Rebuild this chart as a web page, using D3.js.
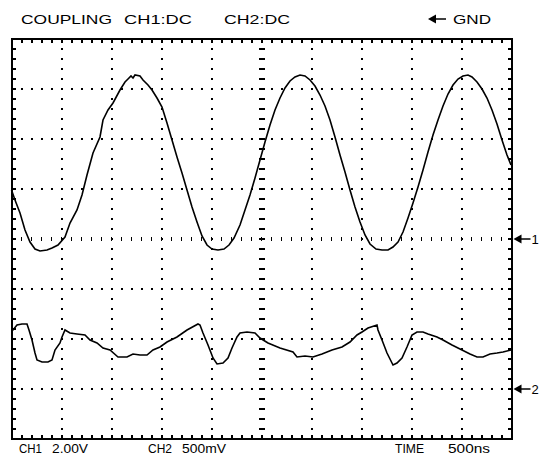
<!DOCTYPE html>
<html>
<head>
<meta charset="utf-8">
<script src="https://cdn.jsdelivr.net/npm/d3@7"></script>
<style>
  body { margin: 0; background: #fff; }
  text { font-family: "Liberation Sans", Arial, sans-serif; font-size: 13px; fill: #000; }
</style>
</head>
<body>
<script>
// screen settings
const divisionsX = 10;
const divisionsY = 8;
const timePerDiv = 500;      // ns
const ch1VoltsPerDiv = 2.0;  // V
const ch2VoltsPerDiv = 0.5;  // V
const ch1GroundDiv = 4;      // divisions below top
const ch2GroundDiv = 7;

// channel 1 trace (time ns, volts)
const ch1Time = [0,35,85,135,185,235,285,355,405,465,535,585,655,705,755,815,885,915,965,1015,1085,1135,1165,1195,1215,1235,1285,1315,1365,1405,1455,1505,1555,1605,1655,1705,1755,1805,1855,1905,1955,2005,2065,2125,2175,2225,2285,2335,2385,2435,2485,2535,2585,2635,2685,2735,2785,2835,2885,2935,2985,3035,3085,3135,3185,3235,3285,3335,3385,3435,3485,3535,3585,3645,3705,3765,3815,3865,3915,3965,4015,4065,4115,4165,4215,4265,4315,4365,4415,4465,4515,4565,4605,4655,4705,4755,4805,4855,4905,4955,4995];
const ch1Volts = [1.96,1.56,1.04,0.36,-0.12,-0.40,-0.48,-0.44,-0.36,-0.24,0.08,0.64,1.16,1.76,2.56,3.44,4.08,4.76,5.16,5.44,5.96,6.28,6.40,6.52,6.44,6.56,6.52,6.36,6.16,5.96,5.64,5.28,4.64,3.96,3.28,2.64,1.96,1.28,0.68,0.12,-0.24,-0.40,-0.44,-0.40,-0.24,0.04,0.56,1.16,1.76,2.44,3.16,3.88,4.56,5.16,5.64,6.04,6.32,6.48,6.56,6.52,6.36,6.12,5.76,5.32,4.76,4.08,3.36,2.68,1.96,1.28,0.68,0.16,-0.20,-0.40,-0.44,-0.44,-0.32,-0.12,0.28,0.84,1.44,2.08,2.76,3.48,4.16,4.76,5.32,5.80,6.16,6.40,6.52,6.56,6.48,6.28,6.00,5.64,5.16,4.60,3.96,3.36,2.96];

// channel 2 trace (time ns, volts)
const ch2Time = [0,15,55,105,155,175,205,235,255,305,365,405,435,485,505,535,585,655,735,785,855,915,985,1065,1155,1215,1285,1355,1415,1485,1555,1655,1755,1865,1885,1915,1965,2015,2055,2115,2165,2205,2255,2285,2355,2435,2485,2565,2685,2815,2855,2935,3015,3105,3205,3305,3385,3455,3505,3565,3655,3665,3705,3755,3815,3855,3905,3955,4005,4055,4115,4165,4255,4315,4405,4505,4585,4655,4715,4785,4855,4915,4995];
const ch2Volts = [0.58,0.59,0.64,0.65,0.65,0.59,0.49,0.36,0.29,0.27,0.27,0.29,0.39,0.46,0.52,0.59,0.56,0.55,0.54,0.49,0.46,0.41,0.39,0.32,0.32,0.35,0.34,0.34,0.39,0.42,0.47,0.52,0.59,0.65,0.64,0.56,0.44,0.31,0.25,0.26,0.31,0.41,0.52,0.56,0.57,0.56,0.51,0.46,0.41,0.37,0.32,0.33,0.32,0.35,0.39,0.42,0.47,0.54,0.57,0.61,0.64,0.59,0.49,0.36,0.24,0.26,0.31,0.42,0.54,0.57,0.57,0.55,0.52,0.49,0.44,0.39,0.35,0.32,0.32,0.35,0.36,0.37,0.39];

// labels
const headerLabels = [
  { text: "COUPLING", x: 21, w: 91 },
  { text: "CH1:DC", x: 124, w: 68 },
  { text: "CH2:DC", x: 224, w: 66 },
  { text: "GND", x: 453, w: 38 }
];
const footerLabels = [
  { text: "CH1", x: 19, w: 23 },
  { text: "2.00V", x: 52, w: 36 },
  { text: "CH2", x: 148, w: 24 },
  { text: "500mV", x: 182, w: 44 },
  { text: "TIME", x: 395, w: 29 },
  { text: "500ns", x: 448, w: 42 }
];
const markerLabels = ["1", "2"];

const W = 539, H = 469;
const plotLeft = 11.5, plotRight = 511.5, plotTop = 39, plotBottom = 439;

const svg = d3.select("body").append("svg")
    .attr("width", W)
    .attr("height", H)
    .attr("viewBox", `0 0 ${W} ${H}`);

svg.append("rect").attr("width", W).attr("height", H).attr("fill", "#fff");

// scales
const x = d3.scaleLinear().domain([0, divisionsX * timePerDiv]).range([plotLeft, plotRight]);
const gx = d3.scaleLinear().domain([0, divisionsX]).range([plotLeft, plotRight]);
const gy = d3.scaleLinear().domain([0, divisionsY]).range([plotTop, plotBottom]);
const y1 = d3.scaleLinear()
    .domain([ch1GroundDiv * ch1VoltsPerDiv, (ch1GroundDiv - divisionsY) * ch1VoltsPerDiv])
    .range([plotTop, plotBottom]);
const y2 = d3.scaleLinear()
    .domain([ch2GroundDiv * ch2VoltsPerDiv, (ch2GroundDiv - divisionsY) * ch2VoltsPerDiv])
    .range([plotTop, plotBottom]);

const grid = svg.append("g").attr("shape-rendering", "crispEdges").attr("fill", "#000");

// dotted division lines, one dot every fifth of a division
const fifthsX = d3.range(1, divisionsX * 5);
const fifthsY = d3.range(1, divisionsY * 5);
d3.range(1, divisionsX).filter(i => i !== divisionsX / 2).forEach(i => {
  grid.selectAll(null).data(fifthsY).join("rect")
      .attr("x", gx(i) - 1).attr("y", d => gy(d / 5) - 1)
      .attr("width", 2).attr("height", 2);
});
d3.range(1, divisionsY).filter(j => j !== divisionsY / 2).forEach(j => {
  grid.selectAll(null).data(fifthsX).join("rect")
      .attr("x", d => gx(d / 5) - 1).attr("y", gy(j) - 1)
      .attr("width", 2).attr("height", 2);
});

// centre axes with small tick dashes
grid.selectAll(null).data(fifthsY).join("rect")
    .attr("x", gx(divisionsX / 2) - 3).attr("y", d => gy(d / 5) - 1)
    .attr("width", 6).attr("height", 2);
grid.selectAll(null).data(fifthsX).join("rect")
    .attr("x", d => gx(d / 5) - 1).attr("y", gy(divisionsY / 2) - 2)
    .attr("width", 1.5).attr("height", 4);

// border ticks pointing inward
grid.selectAll(null).data(fifthsX).join("rect")
    .attr("x", d => gx(d / 5) - 1).attr("y", plotTop)
    .attr("width", 2).attr("height", 4);
grid.selectAll(null).data(fifthsX).join("rect")
    .attr("x", d => gx(d / 5) - 1).attr("y", plotBottom - 4)
    .attr("width", 2).attr("height", 4);
grid.selectAll(null).data(fifthsY).join("rect")
    .attr("x", plotLeft).attr("y", d => gy(d / 5) - 1)
    .attr("width", 4).attr("height", 2);
grid.selectAll(null).data(fifthsY).join("rect")
    .attr("x", plotRight - 4).attr("y", d => gy(d / 5) - 1)
    .attr("width", 4).attr("height", 2);

// frame
svg.append("rect")
    .attr("x", plotLeft).attr("y", plotTop)
    .attr("width", plotRight - plotLeft).attr("height", plotBottom - plotTop)
    .attr("fill", "none").attr("stroke", "#000").attr("stroke-width", 2)
    .attr("shape-rendering", "crispEdges");

// traces
const line1 = d3.line().x(d => x(d[0])).y(d => y1(d[1]));
const line2 = d3.line().x(d => x(d[0])).y(d => y2(d[1]));

svg.append("path")
    .datum(d3.zip(ch1Time, ch1Volts))
    .attr("d", line1)
    .attr("fill", "none").attr("stroke", "#000").attr("stroke-width", 1.6);

svg.append("path")
    .datum(d3.zip(ch2Time, ch2Volts))
    .attr("d", line2)
    .attr("fill", "none").attr("stroke", "#000").attr("stroke-width", 1.6);

// arrow glyph helper
function arrow(g, x0, yc, len) {
  g.append("path")
      .attr("d", `M${x0},${yc} l8,-4.5 v9 z`)
      .attr("fill", "#000");
  g.append("line")
      .attr("x1", x0 + 6).attr("x2", x0 + len)
      .attr("y1", yc).attr("y2", yc)
      .attr("stroke", "#000").attr("stroke-width", 1.5);
}

// ground markers
const markers = svg.append("g");
[[y1(0), markerLabels[0]], [y2(0), markerLabels[1]]].forEach(([yy, lab]) => {
  arrow(markers, plotRight + 2, yy, 17);
  markers.append("text")
      .attr("x", plotRight + 20).attr("y", yy + 4.5)
      .attr("font-size", 12)
      .text(lab);
});

// header and footer text
arrow(svg, 428, 19, 18);
svg.selectAll(null).data(headerLabels).join("text")
    .attr("x", d => d.x).attr("y", 23.5)
    .attr("textLength", d => d.w).attr("lengthAdjust", "spacingAndGlyphs")
    .text(d => d.text);

svg.selectAll(null).data(footerLabels).join("text")
    .attr("x", d => d.x).attr("y", 452.5)
    .attr("textLength", d => d.w).attr("lengthAdjust", "spacingAndGlyphs")
    .text(d => d.text);
</script>
</body>
</html>
